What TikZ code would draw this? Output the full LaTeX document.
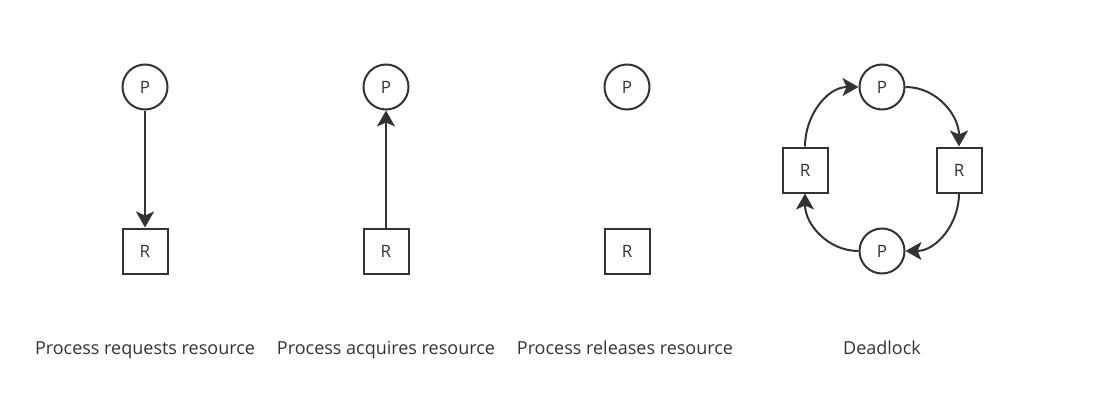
\documentclass[tikz,border=0pt]{standalone}
\usepackage{fontspec}
\setmainfont{Open Sans}
\usetikzlibrary{arrows.meta}
\definecolor{ink}{HTML}{333333}
\begin{document}
\begin{tikzpicture}[x=1pt,y=-1pt,
  proc/.style={circle,draw=ink,line width=2pt,minimum size=45pt,inner sep=0pt,text=ink,font=\fontsize{17}{20}\selectfont},
  res/.style={rectangle,draw=ink,line width=2pt,minimum size=45pt,inner sep=0pt,text=ink,font=\fontsize{17}{20}\selectfont},
  edge/.style={draw=ink,line width=2pt,-{Stealth[length=16pt,width=18pt,inset=4pt]}},
  lbl/.style={text=ink,font=\fontsize{18}{21}\selectfont,anchor=base}]
\useasboundingbox (0,0) rectangle (1101,404);
% column 1
\node[proc] (p1) at (145,87) {P};
\node[res]  (r1) at (145,251) {R};
\draw[edge] (p1) -- (r1);
\node[lbl] (l1) at (145,354) {Process requests resource};
% column 2
\node[proc] (p2) at (386,87) {P};
\node[res]  (r2) at (386,251) {R};
\draw[edge] (r2) -- (p2);
\node[lbl] (l2) at (386,354) {Process acquires resource};
% column 3
\node[proc] (p3) at (627,87) {P};
\node[res]  (r3) at (627,251) {R};
\node[lbl] (l3) at (625,354) {Process releases resource};
% deadlock
\node[proc] (pt) at (882,87) {P};
\node[res]  (rr) at (959,170) {R};
\node[proc] (pb) at (882,251) {P};
\node[res]  (rl) at (805,170) {R};
\draw[edge] (pt.east) to[out=0,in=90] (rr.north);
\draw[edge] (rr.south) to[out=-90,in=0] (pb.east);
\draw[edge] (pb.west) to[out=180,in=-90] (rl.south);
\draw[edge] (rl.north) to[out=90,in=180] (pt.west);
\node[lbl] (l4) at (882,354) {Deadlock};
\end{tikzpicture}
\end{document}
